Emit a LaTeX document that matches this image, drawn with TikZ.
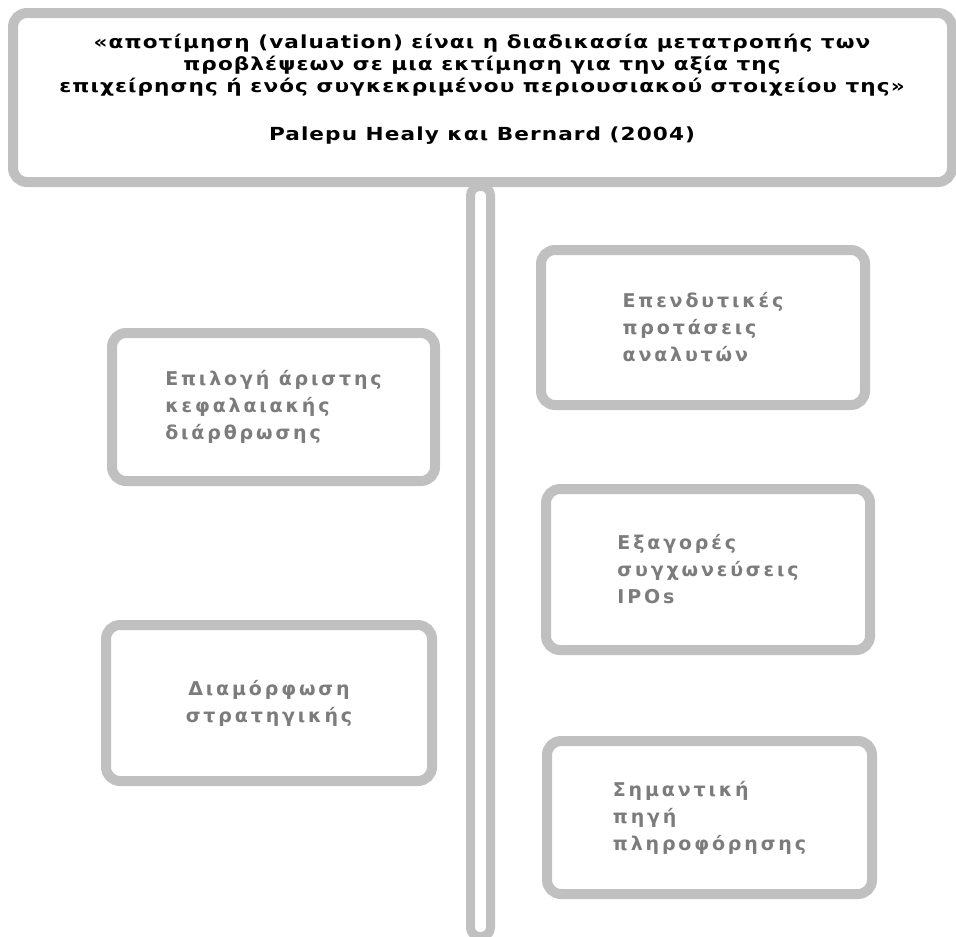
\documentclass[tikz,border=0pt]{standalone}
\usepackage{fontspec}
\setmainfont{DejaVu Sans}
\newfontfamily\quotefont{DejaVu Sans}[FakeStretch=1.2, LetterSpace=6]
\newfontfamily\itemfont{DejaVu Sans}[LetterSpace=15]
\definecolor{framegray}{HTML}{C0C0C0}
\definecolor{labelgray}{HTML}{7C7C7C}
\begin{document}
\begin{tikzpicture}[x=1pt,y=-1pt,
  panel/.style={draw=framegray, line width=10pt, rounded corners=14pt,
    fill=white, inner sep=0pt},
  item/.style={panel, font=\itemfont\bfseries\fontsize{19}{27}\selectfont,
    text=labelgray, align=left}]
\useasboundingbox (0,0) rectangle (956,937);

% central spine
\node[draw=framegray, line width=9pt, rounded corners=9pt, minimum width=20pt,
  minimum height=750pt, inner sep=0pt, anchor=north] (spine) at (480.5,182) {};

% definition box at the top
\node[panel, minimum width=939pt, minimum height=169pt] (topbox) at (482.5,97.5) {};
\node[font=\quotefont\bfseries\fontsize{18}{22}\selectfont, align=center, inner sep=0pt]
  (quote) at (482,89)
  {«αποτίμηση (valuation) είναι η διαδικασία μετατροπής των\\
   προβλέψεων σε μια εκτίμηση για την αξία της\\
   επιχείρησης ή ενός συγκεκριμένου περιουσιακού στοιχείου της»\\[26pt]
   Palepu Healy και Bernard (2004)};

% left column
\node[item, minimum width=323pt, minimum height=148pt] (capital) at (273.5,407)
  {Επιλογή άριστης\\κεφαλαιακής\\διάρθρωσης};
\node[item, align=center, minimum width=326pt, minimum height=156pt] (strategy) at (269,703)
  {Διαμόρφωση\\στρατηγικής};

% right column
\node[item, minimum width=324pt, minimum height=155pt] (analysts) at (703,327.5)
  {Επενδυτικές\\προτάσεις\\αναλυτών};
\node[item, minimum width=324pt, minimum height=161pt] (mergers) at (708,569.5)
  {Εξαγορές\\συγχωνεύσεις\\IPOs};
\node[item, minimum width=325pt, minimum height=153pt] (source) at (709.5,817.5)
  {Σημαντική\\πηγή\\πληροφόρησης};
\end{tikzpicture}
\end{document}
